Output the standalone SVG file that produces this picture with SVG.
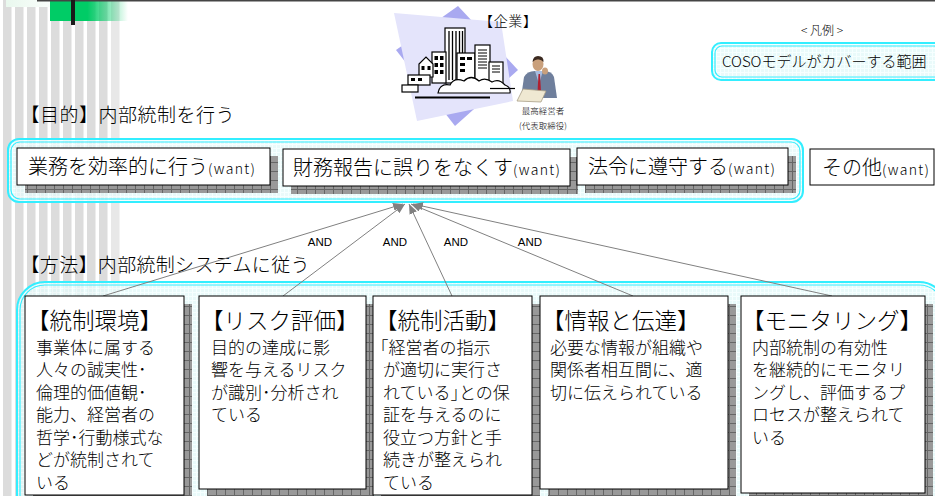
<svg xmlns="http://www.w3.org/2000/svg" width="935" height="496" viewBox="0 0 935 496">
<defs>
  <style>
    .jp { font-family: "Noto Sans CJK JP", "Noto Sans", sans-serif; font-weight: 300; fill: #000; }
    .en { font-family: "Liberation Sans", Arial, sans-serif; fill: #000; }
    .frame-o { fill: url(#tint); fill-opacity: 0.8; stroke: #33eeff; stroke-width: 2; }
    .frame-i { fill: none; stroke: #33eeff; stroke-width: 1.2; }
    .box { fill: #fff; stroke: #000; stroke-width: 1; }
    .shadow { fill: url(#shade); }
    .stripe { fill: #dcdcdc; }
    .link { stroke: #808080; stroke-width: 1; fill: none; marker-end: url(#arrow); }
    .bld { fill: #fff; stroke: #000; stroke-width: 1.2; }
    .win { fill: #000; }
    .t-title { font-size: 22.5px; }
    .t-body { font-size: 17px; }
    .t-obj { font-size: 20px; }
    .t-want { font-size: 14px; }
    .t-head { font-size: 19px; }
    .t-and { font-size: 11.5px; }
  </style>
  <pattern id="shade" width="9" height="9" patternUnits="userSpaceOnUse">
    <rect width="9" height="9" fill="#999"/>
    <path d="M0 0.5H9M0.5 0V9" stroke="#666" stroke-width="1"/>
  </pattern>
  <pattern id="tint" width="4" height="4" patternUnits="userSpaceOnUse">
    <rect width="4" height="4" fill="#e4f9f9"/>
    <path d="M0 0.5H4M0.5 0V4" stroke="#f4ffff" stroke-width="1"/>
  </pattern>
  <linearGradient id="greenFade" x1="0" x2="1" y1="0" y2="0">
    <stop offset="0" stop-color="#00cc66"/>
    <stop offset="0.48" stop-color="#00cc66"/>
    <stop offset="1" stop-color="#00cc66" stop-opacity="0"/>
  </linearGradient>
  <linearGradient id="mintFade" x1="0" x2="1" y1="0" y2="0">
    <stop offset="0" stop-color="#e9f8ee"/>
    <stop offset="1" stop-color="#ffffff"/>
  </linearGradient>
  <marker id="arrow" viewBox="0 0 10 8" refX="10" refY="4" markerWidth="10" markerHeight="8" markerUnits="userSpaceOnUse" orient="auto">
    <path d="M0 0L10 4L0 8z" fill="#808080"/>
  </marker>
</defs>

<!-- page background with vertical stripes at the left margin -->
<rect width="935" height="496" fill="#fff"/>
<g id="stripes">
  <rect class="stripe" x="3" y="0" width="8.5" height="496"/>
  <rect class="stripe" x="15" y="0" width="8.5" height="496"/>
  <rect class="stripe" x="27" y="0" width="8.5" height="496"/>
  <rect class="stripe" x="39" y="0" width="8.5" height="496"/>
  <rect class="stripe" x="51" y="0" width="8.5" height="496"/>
  <rect class="stripe" x="63" y="0" width="8.5" height="496"/>
  <rect class="stripe" x="75" y="0" width="8.5" height="496"/>
  <rect class="stripe" x="87" y="0" width="8.5" height="496"/>
  <rect class="stripe" x="99" y="0" width="8.5" height="496"/>
  <rect x="111" y="0" width="8.5" height="496" fill="#e8e8e8"/>
</g>

<!-- title bar accents -->
<g id="header-bar">
  <rect x="6" y="0" width="60" height="7" fill="url(#mintFade)"/>
  <rect x="50" y="0" width="78" height="21" fill="url(#greenFade)"/>
  <line x1="37" y1="0.75" x2="935" y2="0.75" stroke="#444" stroke-width="1.5"/>
  <rect x="71" y="0" width="4" height="25" fill="#1a1a1a"/>
</g>

<!-- company illustration -->
<g id="company">
  <polygon points="458,6 518,70 455,126 396,50" fill="#a9a9f0"/>
  <polygon points="394,13 501,22 513,101 417,121" fill="#e4e4fb"/>
  <rect class="bld" x="445" y="28" width="20" height="55"/>
  <path d="M449 31V80M452.5 31V80M456 31V80M459.5 31V80M462.5 31V80" stroke="#000" stroke-width="1.3"/>
  <rect class="bld" x="432" y="52" width="14" height="31"/>
  <rect class="win" x="434.5" y="56" width="3.5" height="4"/>
  <rect class="win" x="440" y="56" width="3.5" height="4"/>
  <rect class="win" x="434.5" y="63" width="3.5" height="4"/>
  <rect class="win" x="440" y="63" width="3.5" height="4"/>
  <rect class="win" x="434.5" y="70" width="3.5" height="4"/>
  <rect class="win" x="440" y="70" width="3.5" height="4"/>
  <path class="bld" d="M419 77V64L426 57L433 64V77Z"/>
  <rect class="win" x="421.5" y="66" width="3" height="4"/>
  <rect class="win" x="427.5" y="66" width="3" height="4"/>
  <rect class="bld" x="457" y="53" width="18" height="30"/>
  <rect class="win" x="460" y="57" width="5" height="3"/>
  <rect class="win" x="460" y="63" width="5" height="3"/>
  <rect class="win" x="460" y="69" width="5" height="3"/>
  <rect class="win" x="467" y="57" width="5" height="3"/>
  <rect class="bld" x="475" y="45" width="15" height="38"/>
  <path d="M478 50H487M478 53H487M478 56H487M478 59H487M478 62H487M478 65H487M478 68H487" stroke="#000" stroke-width="1"/>
  <rect class="bld" x="489" y="62" width="14" height="21"/>
  <path d="M492 66H500M492 69H500M492 72H500" stroke="#000" stroke-width="1"/>
  <rect class="bld" x="408" y="75" width="22" height="10"/>
  <rect class="win" x="411" y="78" width="4" height="3"/>
  <rect class="win" x="418" y="78" width="4" height="3"/>
  <rect class="bld" x="402" y="85" width="16" height="7"/>
  <path class="bld" d="M438 93Q440 83 450 85Q454 77 464 81Q471 74 479 81Q485 77 492 82Q499 78 505 85Q511 87 510 93Z"/>
  <line x1="415" y1="97.5" x2="490" y2="97.5" stroke="#000" stroke-width="2"/>
  <line x1="490" y1="88.5" x2="515" y2="88.5" stroke="#000" stroke-width="1.2"/>
  <text class="jp" x="479" y="26" font-size="14" textLength="58" lengthAdjust="spacing">【企業】</text>
</g>

<!-- chief executive -->
<g id="executive">
  <path d="M521 98L524 77Q527 71 535 71H544Q552 71 554 77L557 98Z" fill="#6f7f9c"/>
  <path d="M535 71L539 84L543 71Z" fill="#a8bde0"/>
  <path d="M538.5 74L540 74L541 92L539 94L537.5 92Z" fill="#b02030"/>
  <ellipse cx="538" cy="64" rx="5.5" ry="7" fill="#c9a07c"/>
  <path d="M532.5 62Q533 56 538 56Q544 56 543.5 62Q541 59 538 59.5Q535 59 532.5 62Z" fill="#3b2a20"/>
  <ellipse cx="545" cy="71" rx="3" ry="3.5" fill="#c9a07c"/>
  <polygon points="517,101 523,89 546,91 541,102" fill="#efe8d2" stroke="#a89e86" stroke-width="0.8"/>
  <text class="jp" x="543" y="114" font-size="8.5" text-anchor="middle">最高経営者</text>
  <text class="jp" x="543" y="129" font-size="8.5" text-anchor="middle">(代表取締役)</text>
</g>

<!-- legend -->
<g id="legend">
  <text class="jp" x="822" y="35" font-size="12" text-anchor="middle">&lt; 凡例 &gt;</text>
  <rect class="frame-o" x="712" y="43" width="232" height="37" rx="9"/>
  <rect class="frame-i" x="715" y="46" width="226" height="31" rx="7"/>
  <text class="jp" x="722" y="66.5" font-size="15">COSOモデルがカバーする範囲</text>
</g>

<!-- section headings -->
<text class="jp t-head" x="20.5" y="122" textLength="214" lengthAdjust="spacing">【目的】内部統制を行う</text>
<text class="jp t-head" x="20.5" y="272" textLength="289" lengthAdjust="spacing">【方法】内部統制システムに従う</text>

<!-- objective frame and boxes -->
<g id="objective-frame">
  <rect class="frame-o" x="8" y="139" width="795" height="63" rx="11"/>
  <rect class="frame-i" x="11" y="142" width="789" height="57" rx="9"/>
</g>
<g id="obj-efficiency">
  <rect class="shadow" x="25" y="156" width="253" height="37"/>
  <rect class="box" x="17" y="148" width="253" height="37"/>
  <text class="jp t-obj" x="28" y="174">業務を効率的に行う</text>
  <text class="jp t-want" x="208" y="174" textLength="47" lengthAdjust="spacing">(want)</text>
</g>
<g id="obj-reporting">
  <rect class="shadow" x="291" y="157" width="287" height="37"/>
  <rect class="box" x="283" y="149" width="287" height="37"/>
  <text class="jp t-obj" x="293" y="175">財務報告に誤りをなくす</text>
  <text class="jp t-want" x="513" y="175" textLength="47" lengthAdjust="spacing">(want)</text>
</g>
<g id="obj-compliance">
  <rect class="shadow" x="585" y="156" width="211" height="37"/>
  <rect class="box" x="577" y="148" width="211" height="37"/>
  <text class="jp t-obj" x="588" y="174">法令に遵守する</text>
  <text class="jp t-want" x="728" y="174" textLength="47" lengthAdjust="spacing">(want)</text>
</g>
<g id="obj-other">
  <rect class="box" x="810" y="149" width="124" height="36"/>
  <text class="jp t-obj" x="822" y="175">その他</text>
  <text class="jp t-want" x="882" y="175" textLength="47" lengthAdjust="spacing">(want)</text>
</g>

<!-- method frame -->
<g id="method-frame">
  <rect class="frame-o" x="17" y="282" width="930" height="240" rx="28"/>
  <rect class="frame-i" x="20" y="285" width="924" height="234" rx="25"/>
</g>

<!-- AND links from each component up to the objectives -->
<g id="connectors">
  <line class="link" x1="103" y1="296" x2="403" y2="204"/>
  <line class="link" x1="283" y1="296" x2="405" y2="204"/>
  <line class="link" x1="452" y1="296" x2="409" y2="204"/>
  <line class="link" x1="633" y1="296" x2="411" y2="204"/>
  <line class="link" x1="832" y1="296" x2="413" y2="204"/>
  <text class="en t-and" x="320" y="246" text-anchor="middle">AND</text>
  <text class="en t-and" x="395" y="246" text-anchor="middle">AND</text>
  <text class="en t-and" x="456" y="246" text-anchor="middle">AND</text>
  <text class="en t-and" x="530" y="246" text-anchor="middle">AND</text>
</g>

<!-- COSO components -->
<g id="control-environment">
  <rect class="shadow" x="33" y="304" width="159" height="199"/>
  <rect class="box" x="25" y="296" width="159" height="199"/>
  <text class="jp t-title" x="27" y="329">【統制環境】</text>
  <text class="jp t-body" x="36" y="353.5">事業体に属する</text>
  <text class="jp t-body" x="36" y="376">人々の誠実性･</text>
  <text class="jp t-body" x="36" y="398.5">倫理的価値観･</text>
  <text class="jp t-body" x="36" y="421">能力、経営者の</text>
  <text class="jp t-body" x="36" y="443.5">哲学･行動様式な</text>
  <text class="jp t-body" x="36" y="466">どが統制されて</text>
  <text class="jp t-body" x="36" y="488.5">いる</text>
</g>
<g id="risk-assessment">
  <rect class="shadow" x="207" y="304" width="167" height="193"/>
  <rect class="box" x="199" y="296" width="167" height="193"/>
  <text class="jp t-title" x="201" y="329">【リスク評価】</text>
  <text class="jp t-body" x="211" y="353.5">目的の達成に影</text>
  <text class="jp t-body" x="211" y="376">響を与えるリスク</text>
  <text class="jp t-body" x="211" y="398.5">が識別･分析され</text>
  <text class="jp t-body" x="211" y="421">ている</text>
</g>
<g id="control-activities">
  <rect class="shadow" x="381" y="304" width="159" height="199"/>
  <rect class="box" x="373" y="296" width="159" height="199"/>
  <text class="jp t-title" x="375" y="329">【統制活動】</text>
  <text class="jp t-body" x="380" y="353.5">｢経営者の指示</text>
  <text class="jp t-body" x="383" y="376">が適切に実行さ</text>
  <text class="jp t-body" x="383" y="398.5">れている｣との保</text>
  <text class="jp t-body" x="383" y="421">証を与えるのに</text>
  <text class="jp t-body" x="383" y="443.5">役立つ方針と手</text>
  <text class="jp t-body" x="383" y="466">続きが整えられ</text>
  <text class="jp t-body" x="383" y="488.5">ている</text>
</g>
<g id="information-communication">
  <rect class="shadow" x="548" y="304" width="188" height="193"/>
  <rect class="box" x="540" y="296" width="188" height="193"/>
  <text class="jp t-title" x="542" y="329">【情報と伝達】</text>
  <text class="jp t-body" x="550" y="353.5">必要な情報が組織や</text>
  <text class="jp t-body" x="550" y="376">関係者相互間に、適</text>
  <text class="jp t-body" x="550" y="398.5">切に伝えられている</text>
</g>
<g id="monitoring">
  <rect class="shadow" x="749" y="304" width="184" height="197"/>
  <rect class="box" x="741" y="296" width="184" height="197"/>
  <text class="jp t-title" x="742" y="329">【モニタリング】</text>
  <text class="jp t-body" x="752" y="353.5">内部統制の有効性</text>
  <text class="jp t-body" x="752" y="376">を継続的にモニタリ</text>
  <text class="jp t-body" x="752" y="398.5">ングし、評価するプ</text>
  <text class="jp t-body" x="752" y="421">ロセスが整えられて</text>
  <text class="jp t-body" x="752" y="443.5">いる</text>
</g>
</svg>
